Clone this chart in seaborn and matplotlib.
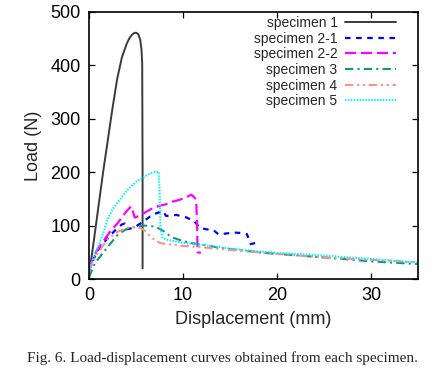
import numpy as np
import pandas as pd
import matplotlib
matplotlib.use("Agg")
import matplotlib.pyplot as plt
import seaborn as sns

# ---------------- data ----------------
labels = ["specimen 1", "specimen 2-1", "specimen 2-2",
          "specimen 3", "specimen 4", "specimen 5"]

s1_x = [0.1, 0.5, 1, 1.5, 2, 2.5, 3, 3.5, 4, 4.3, 4.6, 4.85, 5.05, 5.25, 5.45,
        5.58, 5.66, 5.7, 5.7]
s1_y = [20, 70, 135, 200, 260, 320, 375, 415, 440, 451, 458, 461, 461, 458, 448,
        430, 405, 200, 20]

s21a_x = [0, 0.5, 1, 2, 3, 3.5, 3.8, 4.0, 4.8, 5.8, 6.8, 7.5, 7.9, 8.2, 9.3, 10.4,
          11.2, 11.8, 12.5, 13.2, 13.75, 14.5, 15.4, 16.3, 16.8, 16.95]
s21a_y = [15, 38, 55, 77, 95, 102, 104, 93, 96, 108, 121, 125, 127, 118, 120, 115,
          108, 96, 93, 92, 84, 85, 87, 86, 84, 77]
s21b_x = [17.1, 17.6, 18.2]
s21b_y = [65, 67, 69]

s22_x = [0, 0.5, 1, 1.65, 2.3, 3.07, 3.6, 4.14, 4.5, 4.7, 4.86, 5.3, 5.9, 6.8, 7.5,
         8.2, 8.9, 9.6, 10.3, 10.9, 11.4, 11.5, 11.55, 11.9]
s22_y = [20, 42, 58, 74, 90, 105, 118, 130, 136, 125, 115, 118, 124, 133, 137,
         140, 145, 148, 153, 158, 149, 100, 50, 49]

s3_x = [0, 0.5, 1, 2, 3, 4, 5, 6, 7, 7.5, 8, 8.5, 9, 10, 11, 12.5, 14, 16, 18, 20,
        23, 26, 30, 33, 35]
s3_y = [3, 25, 38, 60, 82, 94, 98, 100, 98, 94, 89, 82, 77, 71, 67, 63, 58, 54, 50,
        47, 43, 39, 33, 30, 28]

s4_x = [0, 0.5, 1, 2, 3, 4, 5, 5.5, 6, 6.5, 7, 7.5, 8, 9, 10, 11.5, 13.5, 16, 18,
        20, 23, 26, 30, 33, 35]
s4_y = [15, 35, 50, 75, 88, 96, 97, 95, 90, 80, 73, 68, 66, 64, 62, 60, 57, 53, 50,
        47, 43, 39, 36, 33, 31]

s5_x = [0, 0.5, 1, 1.5, 2, 2.5, 3, 4, 5, 6, 6.8, 7.4, 7.5, 7.6, 7.8, 8.2, 9, 10, 12,
        15, 18, 20, 24, 28, 32, 35]
s5_y = [15, 40, 62, 85, 113, 130, 142, 165, 182, 193, 200, 201, 170, 100, 78, 74,
        71, 68, 64, 57, 52, 49, 45, 40, 35, 31]

x_ticks = [0, 10, 20, 30]
y_ticks = [0, 100, 200, 300, 400, 500]

# ---------------- styling ----------------
sns.set_style("ticks")
plt.rcParams["font.family"] = ["Liberation Sans", "DejaVu Sans"]

series = [
    (labels[0], [(s1_x, s1_y)], "#3a3a3a", "-", 1.4),
    (labels[1], [(s21a_x, s21a_y), (s21b_x, s21b_y)], "#0000ff", (0, (2.5, 2.5)), 1.6),
    (labels[2], [(s22_x, s22_y)], "#ff00ff", (0, (5, 2.2)), 1.6),
    (labels[3], [(s3_x, s3_y)], "#13938a", (0, (4, 2, 1, 2)), 1.5),
    (labels[4], [(s4_x, s4_y)], "#ff8f85", (0, (4, 1.8, 1, 1.8, 1, 1.8)), 1.5),
    (labels[5], [(s5_x, s5_y)], "#00f0ff", (0, (0.7, 0.7)), 1.5),
]

fig = plt.figure(figsize=(4.45, 3.72), dpi=100)
ax = fig.add_axes([89 / 445, 1 - 279 / 372, (418 - 89) / 445, (279 - 12) / 372])

for name, segs, color, ls, lw in series:
    for i, (sx, sy) in enumerate(segs):
        df = pd.DataFrame({"x": sx, "y": sy})
        sns.lineplot(data=df, x="x", y="y", ax=ax, color=color, linestyle=ls,
                     linewidth=lw, sort=False, estimator=None,
                     label=name if i == 0 else None)

ax.set_xlim(0, 35)
ax.set_ylim(0, 500)
ax.set_xticks(x_ticks)
ax.set_yticks(y_ticks)
ax.tick_params(direction="in", length=4.5, width=0.9, top=True, right=True,
               labelsize=13, pad=6, colors="black")
for sp in ax.spines.values():
    sp.set_visible(True)
    sp.set_linewidth(1.2)
    sp.set_color("black")
ax.set_xlabel("Displacement (mm)", fontsize=13, labelpad=5)
ax.set_ylabel("Load (N)", fontsize=13, labelpad=6)

leg = ax.legend(loc="upper right", bbox_to_anchor=(0.933, 0.985), frameon=False,
                markerfirst=False, fontsize=10, handlelength=3.7,
                handletextpad=0.5, labelspacing=0.12, borderpad=0,
                borderaxespad=0)

fig.text(0.5, 1 - 358 / 372, "Fig. 6. Load-displacement curves obtained from each specimen.",
         ha="center", va="center", fontsize=11,
         family=["Liberation Serif", "DejaVu Serif"])

fig.savefig("out.png", dpi=100)
